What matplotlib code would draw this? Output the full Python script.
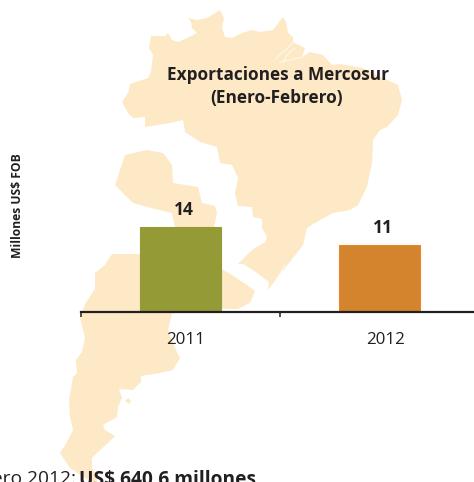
import matplotlib
matplotlib.use("Agg")
import matplotlib.pyplot as plt
from matplotlib.patches import Polygon

W, H = 474, 482
MAP_COLOR = "#fde9c6"
INK = "#231f20"
plt.rcParams["font.family"] = ["Open Sans", "DejaVu Sans"]

years = ["2011", "2012"]
exports = [14, 11]
bar_colors = ["#949a36", "#d3842c"]
bar_edges = ["#949a36", "#e8872f"]

# map outlines (pixels, y down)
brazil = [(149, 48), (151, 36), (165, 36), (168, 33), (172, 40), (178, 42), (187, 38), (197, 33),
          (192, 28), (191, 22), (188, 18), (197, 20), (207, 18), (217, 12), (220, 10), (224, 18),
          (222, 28), (225, 37), (232, 38), (242, 33), (252, 30), (260, 32), (273, 30), (283, 17),
          (286, 22), (288, 33), (293, 37), (293, 42), (305, 48), (302, 57), (310, 52), (323, 55),
          (332, 65), (340, 64), (363, 68), (383, 78), (398, 85), (402, 100), (398, 115), (387, 127),
          (380, 130), (373, 140), (372, 163), (367, 187), (358, 205), (350, 210), (333, 213),
          (320, 220), (307, 228), (303, 245), (293, 258), (277, 278), (268, 290), (269, 282),
          (253, 270), (243, 264), (238, 264), (252, 250), (265, 242), (267, 237), (262, 228),
          (262, 219), (253, 217), (252, 207), (238, 206), (235, 193), (238, 178), (232, 165),
          (220, 163), (217, 147), (200, 142), (185, 132), (183, 120), (170, 123), (145, 127),
          (145, 117), (133, 118), (128, 113), (122, 102), (128, 93), (130, 84), (148, 78),
          (151, 72), (153, 55)]
paraguay = [(125, 155), (147, 150), (163, 153), (172, 165), (173, 183), (198, 187), (202, 203),
            (215, 206), (217, 213), (213, 232), (176, 232), (172, 213), (147, 207), (133, 203),
            (115, 185)]
argentina = [(112, 254), (138, 254), (176, 254), (172, 313), (168, 330), (175, 348), (180, 358),
             (173, 370), (160, 373), (141, 376), (141, 382), (133, 390), (119, 389), (122, 398),
             (118, 407), (117, 417), (103, 425), (105, 430), (115, 436), (108, 443), (100, 450),
             (92, 458), (92, 467), (98, 483), (93, 483), (70, 468), (60, 453), (67, 442), (73, 430),
             (70, 417), (69, 400), (73, 377), (77, 373), (76, 360), (82, 352), (85, 338), (80, 317),
             (85, 304), (95, 289), (95, 273), (105, 265)]
uruguay = [(218, 267), (232, 275), (247, 285), (255, 291), (250, 303), (238, 309), (227, 309),
           (218, 308)]
island = [(125, 401), (128, 398), (131, 401), (129, 404)]
rivers = [[(293, 43), (283, 52), (275, 59)], [(302, 57), (290, 60), (280, 62)],
          [(295, 48), (287, 55), (283, 63)], [(285, 265), (278, 277)]]

fig = plt.figure(figsize=(W / 100, H / 100), dpi=100)

# background layer in pixel coordinates
bg = fig.add_axes([0, 0, 1, 1])
bg.set_xlim(0, W)
bg.set_ylim(H, 0)
bg.axis("off")
for outline in [brazil, paraguay, argentina, uruguay, island]:
    bg.add_patch(Polygon(outline, closed=True, facecolor=MAP_COLOR, edgecolor="none"))
for river in rivers:
    bg.plot([p[0] for p in river], [p[1] for p in river], color="white", lw=0.5)

# chart: x axis spans 81..474 px, baseline at y=312, 199 px between categories
ax = fig.add_axes([81 / W, (H - 312) / H, 393 / W, 200 / H])
ax.patch.set_alpha(0)
ax.set_xlim(-0.5, -0.5 + 393 / 199)
ax.set_ylim(0, 200 / 6.07)
x = range(len(years))
ax.bar(x, exports, width=0.405, color=bar_colors, edgecolor=bar_edges, linewidth=0.8, zorder=3)
for i, v in zip(x, exports):
    ax.annotate(str(v), (i, v), xytext=(2.5, 6), textcoords="offset points", ha="center",
                va="bottom", fontsize=12.5, fontweight="bold", color=INK)
for side in ["left", "right", "top"]:
    ax.spines[side].set_visible(False)
ax.spines["bottom"].set_linewidth(1.6)
ax.spines["bottom"].set_color(INK)
ax.spines["bottom"].set_zorder(4)
ax.set_yticks([])
ax.set_xticks([-0.5, 0.5])
ax.set_xticklabels([])
ax.tick_params(axis="x", length=3.5, width=1.1, color=INK)
for i, year in zip(x, years):
    ax.annotate(year, (i, 0), xytext=(4, -14.5), textcoords="offset points", ha="center",
                va="top", fontsize=12.2, color=INK)

bg.text(278.5, 75.5, "Exportaciones a Mercosur", ha="center", va="center", fontsize=12.4,
        fontweight="bold", color=INK)
bg.text(277, 98, "(Enero-Febrero)", ha="center", va="center", fontsize=12.4,
        fontweight="bold", color=INK)
bg.text(18, 205.5, "Millones US$ FOB", rotation=90, ha="center", va="center", fontsize=8.7,
        fontweight="bold", color=INK)
bg.text(76, 484.5, "Enero-Febrero 2012:", ha="right", va="baseline", fontsize=13.8, color=INK)
bg.text(79, 484.5, "US$ 640.6 millones", ha="left", va="baseline", fontsize=13.8,
        fontweight="bold", color=INK)

fig.savefig("out.png", dpi=100)
